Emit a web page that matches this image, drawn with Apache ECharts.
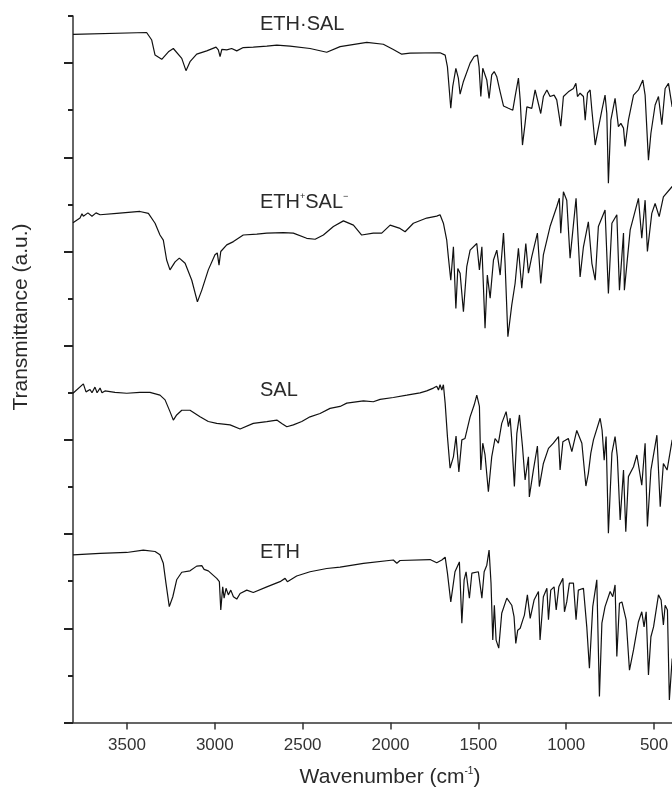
<!DOCTYPE html>
<html>
<head>
<meta charset="utf-8">
<script src="https://cdn.jsdelivr.net/npm/echarts@6/dist/echarts.min.js"></script>
<style>
html,body{margin:0;padding:0;background:#fff;}
#chart{width:672px;height:789px;}
</style>
</head>
<body>
<div id="chart"></div>
<script>
// Wavenumber (cm-1) / transmittance (a.u., offset traces)
const xTicks = [500, 1000, 1500, 2000, 2500, 3000, 3500];
const yMajorTicks = [0, 2, 4, 6, 8, 10, 12, 14];
const yMinorTicks = [1, 3, 5, 7, 9, 11, 13, 15];
const seriesNames = ['ETH·SAL', 'ETH+SAL-', 'SAL', 'ETH'];

const ethSal = [[3807,14.61],[3388,14.65],[3359,14.49],[3340,14.17],[3302,14.08],[3264,14.24],[3236,14.31],[3188,14.10],[3164,13.84],[3141,14.03],[3103,14.19],[3046,14.26],[2993,14.34],[2980,14.28],[2970,14.14],[2960,14.29],[2932,14.28],[2904,14.31],[2875,14.26],[2838,14.33],[2781,14.34],[2704,14.36],[2647,14.38],[2572,14.36],[2458,14.31],[2363,14.23],[2287,14.35],[2135,14.44],[2041,14.40],[1984,14.29],[1936,14.19],[1889,14.21],[1718,14.22],[1689,14.17],[1676,13.92],[1657,13.04],[1646,13.50],[1628,13.89],[1614,13.68],[1604,13.34],[1585,13.61],[1547,14.00],[1524,14.14],[1505,14.17],[1496,13.92],[1486,13.29],[1475,13.89],[1452,13.64],[1439,13.25],[1424,13.75],[1410,13.82],[1395,13.71],[1376,13.39],[1357,13.09],[1329,13.04],[1304,13.00],[1291,13.29],[1272,13.68],[1262,13.22],[1249,12.26],[1234,12.72],[1224,13.07],[1196,13.04],[1177,13.43],[1145,12.93],[1130,13.29],[1110,13.43],[1092,13.29],[1069,13.32],[1054,13.22],[1031,12.66],[1016,13.29],[988,13.39],[959,13.46],[945,13.57],[936,13.29],[921,13.36],[902,13.29],[892,12.79],[879,13.36],[864,13.43],[854,13.00],[835,12.26],[817,12.62],[797,13.00],[779,13.32],[769,12.93],[760,11.45],[746,12.79],[722,13.25],[703,12.65],[689,12.72],[674,12.62],[665,12.23],[646,12.79],[617,13.32],[589,13.43],[564,13.64],[551,13.32],[532,11.94],[518,12.51],[494,13.11],[475,13.29],[456,12.69],[437,13.46],[418,13.57],[397,13.07]];

const ethSalIon = [[3807,10.61],[3767,10.71],[3756,10.80],[3748,10.75],[3744,10.73],[3722,10.82],[3699,10.75],[3676,10.82],[3653,10.78],[3558,10.81],[3426,10.85],[3378,10.81],[3340,10.60],[3312,10.35],[3293,10.24],[3274,9.82],[3255,9.61],[3226,9.78],[3202,9.86],[3169,9.75],[3131,9.39],[3099,8.93],[3074,9.18],[3037,9.61],[2999,9.93],[2986,9.97],[2976,9.71],[2966,10.00],[2932,10.14],[2894,10.21],[2838,10.35],[2761,10.37],[2704,10.39],[2610,10.40],[2553,10.39],[2477,10.28],[2429,10.26],[2382,10.35],[2325,10.53],[2268,10.65],[2211,10.56],[2164,10.35],[2098,10.39],[2050,10.39],[2002,10.56],[1946,10.49],[1917,10.42],[1870,10.60],[1794,10.71],[1737,10.75],[1718,10.78],[1699,10.60],[1680,10.24],[1671,9.89],[1657,9.39],[1642,10.10],[1628,8.79],[1617,9.64],[1604,9.54],[1585,8.72],[1566,9.68],[1547,10.03],[1509,10.17],[1494,9.61],[1480,10.10],[1462,8.37],[1449,9.50],[1433,9.01],[1414,9.82],[1395,10.03],[1376,9.50],[1357,10.39],[1348,9.75],[1332,8.19],[1310,8.86],[1291,9.32],[1272,10.07],[1253,9.22],[1230,10.17],[1215,9.54],[1196,9.89],[1164,10.39],[1145,9.32],[1130,9.93],[1092,10.53],[1054,10.95],[1039,11.13],[1031,10.39],[1016,11.27],[997,11.09],[978,9.86],[944,11.13],[921,9.46],[902,10.10],[874,10.63],[854,9.75],[835,9.39],[817,10.53],[779,10.88],[760,9.11],[740,10.60],[712,10.78],[697,9.18],[674,10.39],[669,9.18],[636,10.46],[589,11.13],[570,10.28],[551,11.09],[538,10.00],[513,10.81],[494,11.02],[471,10.74],[447,11.16],[397,11.38]];

const sal = [[3807,6.99],[3748,7.19],[3733,7.02],[3710,7.07],[3699,7.00],[3682,7.12],[3670,7.00],[3653,7.10],[3642,7.00],[3625,7.04],[3568,7.01],[3501,6.99],[3426,7.01],[3369,7.01],[3312,6.95],[3283,6.85],[3255,6.60],[3236,6.42],[3217,6.53],[3188,6.63],[3141,6.63],[3084,6.49],[3037,6.39],[2989,6.35],[2913,6.32],[2856,6.23],[2781,6.35],[2704,6.39],[2647,6.42],[2619,6.35],[2590,6.28],[2553,6.32],[2505,6.39],[2458,6.49],[2401,6.56],[2344,6.67],[2287,6.71],[2249,6.78],[2154,6.83],[2098,6.81],[2059,6.86],[1984,6.90],[1907,6.95],[1832,7.00],[1794,7.04],[1756,7.10],[1737,7.14],[1727,7.06],[1718,7.17],[1708,7.06],[1699,7.17],[1689,6.78],[1676,6.07],[1661,5.40],[1642,5.64],[1627,6.08],[1611,5.32],[1594,6.00],[1576,6.03],[1547,6.49],[1524,6.74],[1509,6.95],[1494,6.71],[1486,5.36],[1475,5.93],[1462,5.68],[1443,4.90],[1424,5.64],[1405,6.03],[1386,5.93],[1367,6.35],[1342,6.60],[1329,6.28],[1319,6.46],[1310,6.00],[1295,5.01],[1281,6.14],[1266,6.53],[1249,5.86],[1234,5.15],[1215,5.64],[1210,4.79],[1187,5.36],[1164,5.87],[1153,5.01],[1130,5.50],[1101,5.82],[1073,5.93],[1044,6.07],[1035,5.36],[1019,5.96],[988,6.03],[968,5.75],[940,6.20],[911,5.93],[888,5.02],[874,5.29],[860,5.72],[845,6.00],[807,6.46],[796,6.21],[784,5.57],[773,6.07],[760,4.02],[740,5.72],[722,6.07],[709,5.64],[693,4.30],[674,5.36],[661,4.05],[646,5.22],[617,5.43],[598,5.68],[570,5.04],[551,5.93],[538,4.16],[518,5.36],[484,6.10],[465,4.58],[447,5.50],[426,5.36],[397,6.00]];

const eth = [[3807,3.56],[3653,3.59],[3501,3.61],[3407,3.66],[3340,3.63],[3312,3.56],[3293,3.38],[3278,2.96],[3259,2.46],[3239,2.67],[3217,3.03],[3188,3.19],[3141,3.22],[3103,3.32],[3074,3.33],[3061,3.25],[3037,3.22],[2989,3.06],[2974,2.99],[2966,2.39],[2955,2.88],[2947,2.64],[2936,2.85],[2923,2.71],[2909,2.81],[2894,2.67],[2875,2.62],[2856,2.74],[2818,2.81],[2781,2.76],[2704,2.88],[2629,2.99],[2600,3.06],[2587,2.99],[2534,3.11],[2458,3.20],[2363,3.27],[2287,3.30],[2154,3.38],[1984,3.45],[1964,3.38],[1946,3.44],[1775,3.46],[1737,3.39],[1708,3.45],[1689,3.51],[1676,3.17],[1657,2.56],[1633,3.20],[1608,3.41],[1594,2.11],[1581,3.03],[1570,3.20],[1551,2.64],[1537,3.17],[1500,3.20],[1480,2.64],[1467,3.20],[1452,3.34],[1439,3.66],[1428,2.96],[1418,1.75],[1409,2.49],[1399,1.75],[1384,1.58],[1367,2.32],[1338,2.64],[1310,2.49],[1297,2.25],[1287,1.68],[1276,1.96],[1262,2.00],[1247,2.18],[1238,2.28],[1221,2.71],[1205,2.21],[1183,2.60],[1158,2.78],[1149,1.75],[1130,2.67],[1110,2.85],[1101,2.18],[1088,2.81],[1069,2.88],[1057,2.39],[1042,2.88],[1019,3.06],[1010,2.35],[997,2.56],[982,2.96],[959,2.96],[944,2.18],[931,2.81],[902,2.85],[883,2.03],[868,1.15],[849,2.46],[826,3.03],[811,0.55],[797,2.11],[779,2.46],[750,2.78],[735,2.67],[722,2.92],[712,1.40],[697,2.53],[683,2.56],[659,2.18],[640,1.11],[617,1.54],[589,2.14],[570,2.35],[557,2.03],[545,2.35],[532,1.01],[518,1.82],[503,2.03],[475,2.71],[460,2.60],[447,2.07],[437,2.49],[424,2.39],[413,0.48],[397,1.36]];

const FONT = "'Liberation Sans', Arial, Helvetica, sans-serif";
const chart = echarts.init(document.getElementById('chart'), null, {renderer: 'canvas'});

function lineSeries(name, data) {
  return {
    name: name, type: 'line', data: data, xAxisIndex: 0, yAxisIndex: 0,
    showSymbol: false, symbol: 'none', smooth: false, silent: true,
    lineStyle: {color: '#111', width: 1.2},
    clip: true
  };
}

const option = {
  animation: false,
  backgroundColor: '#fff',
  grid: {left: 73, right: 0, top: 16, bottom: 66.5, containLabel: false},
  xAxis: {
    type: 'value', inverse: true, min: 398, max: 3807,
    axisLine: {show: true, onZero: false, lineStyle: {color: '#333', width: 1.5}},
    axisTick: {show: true, length: 7, customValues: xTicks, lineStyle: {color: '#333', width: 1.5}},
    axisLabel: {show: true, customValues: xTicks, margin: 14, fontSize: 17, color: '#333', fontFamily: FONT,
      formatter: function (v) { return String(v); }},
    splitLine: {show: false}
  },
  yAxis: [
    {
      type: 'value', min: 0, max: 15, position: 'left',
      axisLine: {show: true, onZero: false, lineStyle: {color: '#333', width: 1.5}},
      axisTick: {show: true, length: 5, customValues: yMinorTicks, lineStyle: {color: '#222', width: 2}},
      axisLabel: {show: false}, splitLine: {show: false}
    },
    {
      type: 'value', min: 0, max: 15, position: 'left',
      axisLine: {show: false, onZero: false},
      axisTick: {show: true, length: 9, customValues: yMajorTicks, lineStyle: {color: '#222', width: 2}},
      axisLabel: {show: false}, splitLine: {show: false}
    }
  ],
  series: [
    lineSeries(seriesNames[0], ethSal),
    lineSeries(seriesNames[1], ethSalIon),
    lineSeries(seriesNames[2], sal),
    lineSeries(seriesNames[3], eth)
  ],
  graphic: [
    {type: 'text', left: 260, top: 14, silent: true,
     style: {text: 'ETH·SAL', fontSize: 20, fontFamily: FONT, fill: '#2a2a2a'}},
    {type: 'text', left: 260, top: 192, silent: true,
     style: {text: 'ETH{sup|+}SAL{sup|−}', fontSize: 20, fontFamily: FONT, fill: '#2a2a2a',
       rich: {sup: {fontSize: 9, fontFamily: FONT, fill: '#2a2a2a', verticalAlign: 'top'}}}},
    {type: 'text', left: 260, top: 380, silent: true,
     style: {text: 'SAL', fontSize: 20, fontFamily: FONT, fill: '#2a2a2a'}},
    {type: 'text', left: 260, top: 542, silent: true,
     style: {text: 'ETH', fontSize: 20, fontFamily: FONT, fill: '#2a2a2a'}},
    {type: 'text', x: 21, y: 317, rotation: Math.PI / 2, silent: true,
     style: {text: 'Transmittance (a.u.)', fontSize: 21, fontFamily: FONT, fill: '#2a2a2a',
       align: 'center', verticalAlign: 'middle'}},
    {type: 'text', x: 390, y: 777, silent: true,
     style: {text: 'Wavenumber (cm{sup|-1})', fontSize: 21, fontFamily: FONT, fill: '#2a2a2a',
       align: 'center', verticalAlign: 'middle',
       rich: {sup: {fontSize: 10, fontFamily: FONT, fill: '#2a2a2a', verticalAlign: 'top'}}}}
  ]
};
chart.setOption(option);
</script>
</body>
</html>
